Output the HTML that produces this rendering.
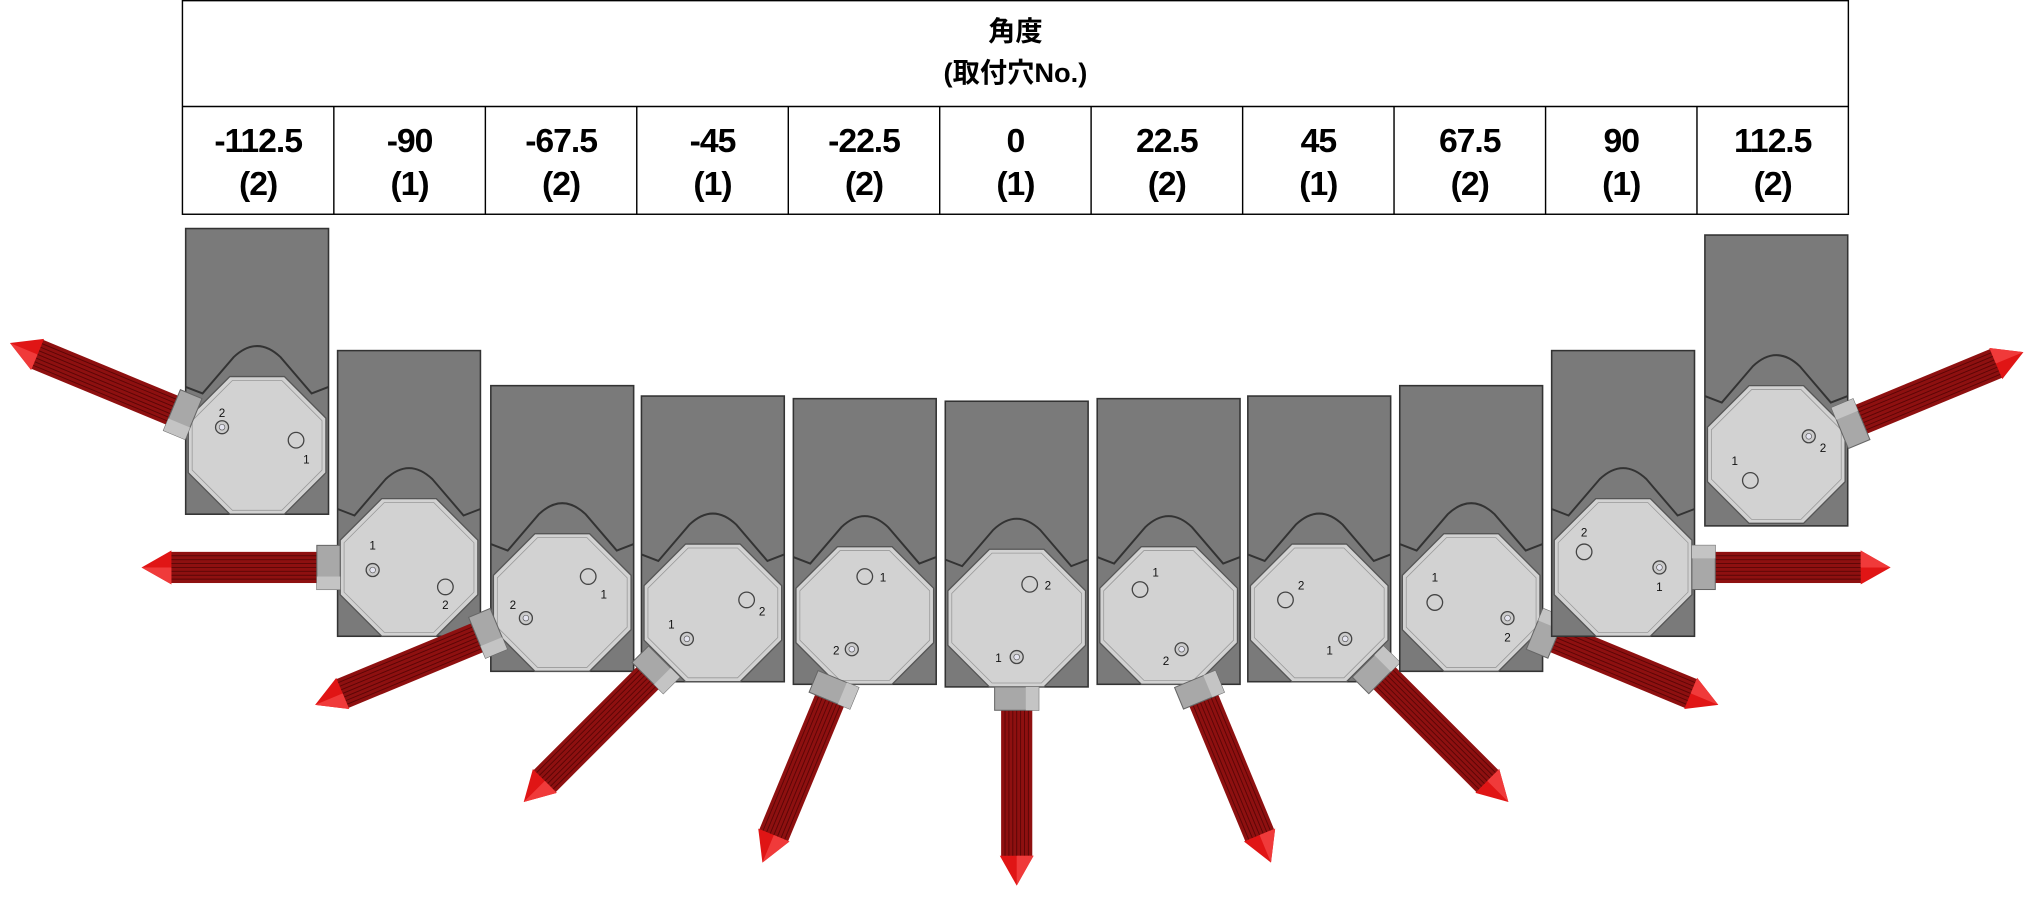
<!DOCTYPE html>
<html><head><meta charset="utf-8"><style>
html,body{margin:0;padding:0;background:#fff;}
svg{display:block;}
.t{font-family:"Liberation Sans","Noto Sans CJK JP",sans-serif;fill:#000;text-anchor:middle;}
.n{font-family:"Liberation Sans",sans-serif;fill:#111;font-size:9px;text-anchor:middle;}
</style></head><body>
<svg width="2036" height="902" viewBox="0 0 1568 694.65" preserveAspectRatio="none" xmlns="http://www.w3.org/2000/svg">
<defs>
<g id="probe">
  <rect x="62" y="-12" width="122" height="24" fill="#8e1010"/>
  <g stroke="#5a0606" stroke-width="0.7">
    <line x1="62" y1="-9" x2="184" y2="-9"/><line x1="62" y1="-6" x2="184" y2="-6"/>
    <line x1="62" y1="-3" x2="184" y2="-3"/><line x1="62" y1="0" x2="184" y2="0"/>
    <line x1="62" y1="3" x2="184" y2="3"/><line x1="62" y1="6" x2="184" y2="6"/>
    <line x1="62" y1="9" x2="184" y2="9"/>
  </g>
  <polygon points="183,-13 206,0 183,13" fill="#e01515"/>
  <polygon points="183,-13 206,0 183,0" fill="#f03a3a"/>
  <rect x="53" y="-17" width="18" height="34" fill="#a8a8a8" stroke="#666" stroke-width="0.8"/>
  <rect x="53" y="-17" width="18" height="10" fill="#c4c4c4"/>
</g>
<g id="oct">
  <polygon points="-21,-53 21,-53 53,-21 53,21 21,53 -21,53 -53,21 -53,-21" fill="#d2d2d2" stroke="#555" stroke-width="1"/>
  <polygon points="-19,-50 19,-50 50,-19 50,19 19,50 -19,50 -50,19 -50,-19" fill="none" stroke="#999" stroke-width="0.6"/>
</g>
<g id="screw"><circle r="5" fill="#ccc" stroke="#444"/><circle r="2.2" fill="#e4e4f0" stroke="#555" stroke-width="0.5"/></g>
<g id="hole"><circle r="6" fill="none" stroke="#444"/></g>
<g id="rect"><rect x="-55" y="-167" width="110" height="220" fill="#7a7a7a" stroke="#333" stroke-width="1.2"/>
 <path d="M-55,-45 L-42,-40 L-18,-68 Q0,-85 18,-68 L42,-40 L55,-45" fill="none" stroke="#333" stroke-width="1.5"/></g>
</defs>

<rect x="140.5" y="0.5" width="1283" height="164.5" fill="#fff" stroke="#000" stroke-width="1.1"/>
<line x1="140.5" y1="82" x2="1423.5" y2="82" stroke="#000" stroke-width="1.1"/>
<g stroke="#000" stroke-width="1.1">
<line x1="257.1" y1="82" x2="257.1" y2="165"/><line x1="373.8" y1="82" x2="373.8" y2="165"/>
<line x1="490.4" y1="82" x2="490.4" y2="165"/><line x1="607.1" y1="82" x2="607.1" y2="165"/>
<line x1="723.7" y1="82" x2="723.7" y2="165"/><line x1="840.3" y1="82" x2="840.3" y2="165"/>
<line x1="957" y1="82" x2="957" y2="165"/><line x1="1073.6" y1="82" x2="1073.6" y2="165"/>
<line x1="1190.3" y1="82" x2="1190.3" y2="165"/><line x1="1306.9" y1="82" x2="1306.9" y2="165"/>
</g>
<text class="t" x="782" y="31" font-size="21" font-weight="bold">角度</text>
<text class="t" x="782" y="63" font-size="21" font-weight="bold">(取付穴No.)</text>
<g font-size="26" font-weight="bold" letter-spacing="-0.8">
<text class="t" x="198.8" y="117">-112.5</text><text class="t" x="198.8" y="150">(2)</text>
<text class="t" x="315.4" y="117">-90</text><text class="t" x="315.4" y="150">(1)</text>
<text class="t" x="432.1" y="117">-67.5</text><text class="t" x="432.1" y="150">(2)</text>
<text class="t" x="548.7" y="117">-45</text><text class="t" x="548.7" y="150">(1)</text>
<text class="t" x="665.4" y="117">-22.5</text><text class="t" x="665.4" y="150">(2)</text>
<text class="t" x="782" y="117">0</text><text class="t" x="782" y="150">(1)</text>
<text class="t" x="898.6" y="117">22.5</text><text class="t" x="898.6" y="150">(2)</text>
<text class="t" x="1015.3" y="117">45</text><text class="t" x="1015.3" y="150">(1)</text>
<text class="t" x="1131.9" y="117">67.5</text><text class="t" x="1131.9" y="150">(2)</text>
<text class="t" x="1248.6" y="117">90</text><text class="t" x="1248.6" y="150">(1)</text>
<text class="t" x="1365.2" y="117">112.5</text><text class="t" x="1365.2" y="150">(2)</text>
</g>

<g transform="translate(198,343)"><use href="#rect"/><use href="#oct"/>
 <use href="#screw" x="-27" y="-14"/><text class="n" x="-27" y="-22">2</text>
 <use href="#hole" x="30" y="-4"/><text class="n" x="38" y="14">1</text>
 <use href="#probe" transform="rotate(202.5)"/></g>
<g transform="translate(315,437)"><use href="#rect"/><use href="#oct"/>
 <use href="#screw" x="-28" y="2"/><text class="n" x="-28" y="-14">1</text>
 <use href="#hole" x="28" y="15"/><text class="n" x="28" y="32">2</text>
 <use href="#probe" transform="rotate(180)"/></g>
<g transform="translate(433,464)"><use href="#rect"/><use href="#oct"/>
 <use href="#screw" x="-28" y="12"/><text class="n" x="-38" y="5">2</text>
 <use href="#hole" x="20" y="-20"/><text class="n" x="32" y="-3">1</text>
 <use href="#probe" transform="rotate(157.5)"/></g>
<g transform="translate(549,472)"><use href="#rect"/><use href="#oct"/>
 <use href="#screw" x="-20" y="20"/><text class="n" x="-32" y="12">1</text>
 <use href="#hole" x="26" y="-10"/><text class="n" x="38" y="2">2</text>
 <use href="#probe" transform="rotate(135)"/></g>
<g transform="translate(666,474)"><use href="#rect"/><use href="#oct"/>
 <use href="#screw" x="-10" y="26"/><text class="n" x="-22" y="30">2</text>
 <use href="#hole" x="0" y="-30"/><text class="n" x="14" y="-26">1</text>
 <use href="#probe" transform="rotate(112.5)"/></g>
<g transform="translate(783,476)"><use href="#rect"/><use href="#oct"/>
 <use href="#screw" x="0" y="30"/><text class="n" x="-14" y="34">1</text>
 <use href="#hole" x="10" y="-26"/><text class="n" x="24" y="-22">2</text>
 <use href="#probe" transform="rotate(90)"/></g>
<g transform="translate(900,474)"><use href="#rect"/><use href="#oct"/>
 <use href="#screw" x="10" y="26"/><text class="n" x="-2" y="38">2</text>
 <use href="#hole" x="-22" y="-20"/><text class="n" x="-10" y="-30">1</text>
 <use href="#probe" transform="rotate(67.5)"/></g>
<g transform="translate(1016,472)"><use href="#rect"/><use href="#oct"/>
 <use href="#screw" x="20" y="20"/><text class="n" x="8" y="32">1</text>
 <use href="#hole" x="-26" y="-10"/><text class="n" x="-14" y="-18">2</text>
 <use href="#probe" transform="rotate(45)"/></g>
<g transform="translate(1133,464)"><use href="#rect"/><use href="#oct"/>
 <use href="#screw" x="28" y="12"/><text class="n" x="28" y="30">2</text>
 <use href="#hole" x="-28" y="0"/><text class="n" x="-28" y="-16">1</text>
 <use href="#probe" transform="rotate(22.5)"/></g>
<g transform="translate(1250,437)"><use href="#rect"/><use href="#oct"/>
 <use href="#screw" x="28" y="0"/><text class="n" x="28" y="18">1</text>
 <use href="#hole" x="-30" y="-12"/><text class="n" x="-30" y="-24">2</text>
 <use href="#probe" transform="rotate(0)"/></g>
<g transform="translate(1368,350)"><rect x="-55" y="-169" width="110" height="224" fill="#7a7a7a" stroke="#333" stroke-width="1.2"/>
 <path d="M-55,-45 L-42,-40 L-18,-68 Q0,-85 18,-68 L42,-40 L55,-45" fill="none" stroke="#333" stroke-width="1.5"/>
 <use href="#oct"/>
 <use href="#screw" x="25" y="-14"/><text class="n" x="36" y="-2">2</text>
 <use href="#hole" x="-20" y="20"/><text class="n" x="-32" y="8">1</text>
 <use href="#probe" transform="rotate(-22.5)"/></g>
</svg>
</body></html>
